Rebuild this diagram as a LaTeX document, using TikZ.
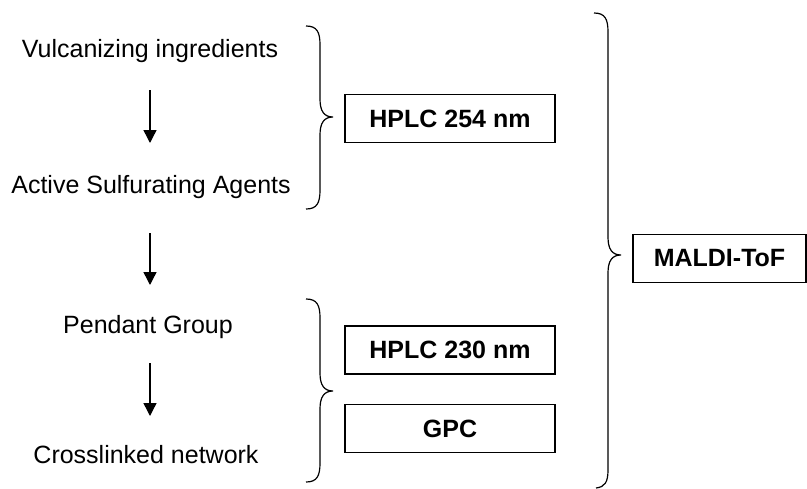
\documentclass[tikz,border=0pt]{standalone}
\usepackage{fontspec}
\setmainfont{Liberation Sans}
\usetikzlibrary{arrows.meta}
\begin{document}
\begin{tikzpicture}[x=1pt,y=-1pt,
  lbl/.style={font=\fontsize{25pt}{30pt}\selectfont, inner sep=0pt, anchor=base},
  boxn/.style={draw, line width=1.3pt, font=\fontsize{25pt}{30pt}\selectfont\bfseries,
    minimum width=210pt, minimum height=48pt, inner sep=0pt},
  arr/.style={line width=1.4pt, -{Triangle[width=13pt,length=13pt]}},
  brc/.style={line width=1.2pt}]
\useasboundingbox (0,0) rectangle (807,488);
\coordinate (axis) at (150,0);
% process texts
\node[lbl] (v) at (150,57) {Vulcanizing ingredients};
\node[lbl] (a) at (151,193) {Active Sulfurating Agents};
\node[lbl] (p) at (148,333) {Pendant Group};
\node[lbl] (c) at (146,463) {Crosslinked network};
% arrows
\draw[arr] ([yshift=-33pt]v.base -| axis) -- ([yshift=50pt]a.base -| axis);
\draw[arr] ([yshift=-40pt]a.base -| axis) -- ([yshift=48pt]p.base -| axis);
\draw[arr] ([yshift=-30pt]p.base -| axis) -- ([yshift=47pt]c.base -| axis);
% boxes
\node[boxn] (h1) at (450,118.5) {HPLC 254 nm};
\node[boxn] (h2) at (450,350) {HPLC 230 nm};
\node[boxn] (g) at (450,428.5) {GPC};
\node[boxn, minimum width=173pt] (m) at (719.5,258.5) {MALDI-ToF};
% brace 1
\draw[brc] (306,26) .. controls (317,26) and (320,32) .. (320,45) -- (320,99)
  .. controls (320,111) and (324,117) .. (333,117)
  .. controls (324,117) and (320,123) .. (320,135) -- (320,190)
  .. controls (320,203) and (317,209) .. (306,209);
% brace 2
\draw[brc] (306,299) .. controls (317,299) and (320,305) .. (320,318) -- (320,373)
  .. controls (320,385) and (324,391) .. (333,391)
  .. controls (324,391) and (320,397) .. (320,409) -- (320,463)
  .. controls (320,476) and (317,482) .. (306,482);
% big brace
\draw[brc] (594,13) .. controls (605,13) and (608,19) .. (608,32) -- (608,237)
  .. controls (608,249) and (612,255) .. (621,255)
  .. controls (612,255) and (608,261) .. (608,273) -- (608,470)
  .. controls (608,482) and (605,487) .. (596,488);
\end{tikzpicture}
\end{document}
